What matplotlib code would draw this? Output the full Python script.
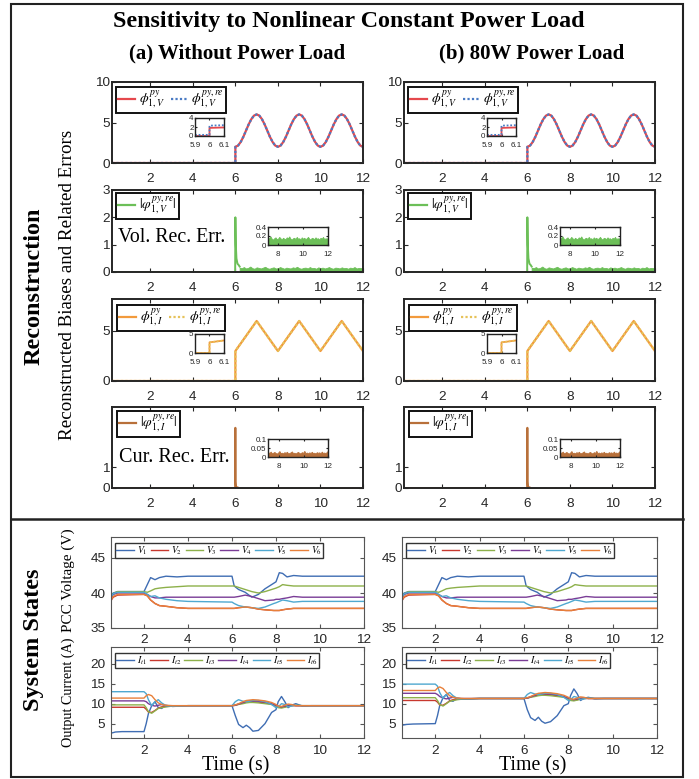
import numpy as np
import matplotlib
matplotlib.use('Agg')
import matplotlib.pyplot as plt
from matplotlib.lines import Line2D
from matplotlib.patches import Rectangle

# ---------------- DATA ----------------
xticks_top = [2, 4, 6, 8, 10, 12]
# phi_V : zero before 6 s, then sinusoid (every 0.125 s from 6 to 12)
phiV_pre_t = [0.2, 6.0]
phiV_pre = [0.0, 0.0]
phiV_vals = [2.00, 2.15, 2.59, 3.23, 4.00, 4.77, 5.41, 5.85, 6.00, 5.85, 5.41, 4.77, 4.00, 3.23, 2.59, 2.15,
             2.00, 2.15, 2.59, 3.23, 4.00, 4.77, 5.41, 5.85, 6.00, 5.85, 5.41, 4.77, 4.00, 3.23, 2.59, 2.15,
             2.00, 2.15, 2.59, 3.23, 4.00, 4.77, 5.41, 5.85, 6.00, 5.85, 5.41, 4.77, 4.00, 3.23, 2.59, 2.15,
             2.00]
phiV_ins_t = [5.9, 6.0, 6.0, 6.1]
phiV_ins_true = [0.0, 0.0, 1.8, 1.9]
phiV_ins_rec = [0.25, 0.25, 2.3, 2.4]

# voltage reconstruction error
errV_t = [0.2, 5.99, 6.0, 6.02, 6.05, 6.1, 6.15, 6.2]
errV = [0.0, 0.0, 2.0, 1.0, 0.5, 0.3, 0.26, 0.2]
errV_env = [0.16, 0.14, 0.18, 0.13, 0.15, 0.20, 0.14, 0.12, 0.17, 0.15, 0.13, 0.16, 0.19, 0.14, 0.12,
            0.15, 0.17, 0.13, 0.14, 0.18, 0.15, 0.12, 0.16, 0.14, 0.13, 0.17, 0.15, 0.19, 0.14, 0.12,
            0.15, 0.16, 0.13, 0.18, 0.14, 0.15, 0.12, 0.17, 0.14, 0.16, 0.13, 0.15, 0.18, 0.14, 0.12,
            0.16, 0.15, 0.13, 0.17, 0.14, 0.15, 0.12, 0.16, 0.14, 0.18, 0.13, 0.15, 0.14, 0.16]

# phi_I : triangular wave
phiI_t = [0.2, 6.0, 6.0, 7.0, 8.0, 9.0, 10.0, 11.0, 12.0]
phiI = [0.0, 0.0, 3.0, 6.0, 3.0, 6.0, 3.0, 6.0, 3.0]
phiI_ins_t = [5.9, 6.0, 6.0, 6.1]
phiI_ins = [0.0, 0.0, 2.8, 3.3]

# current reconstruction error
errI_t = [0.2, 5.99, 6.0, 6.01, 6.03, 6.1]
errI = [0.0, 0.0, 2.9, 0.3, 0.05, 0.03]
errI_env = [0.025, 0.020, 0.030, 0.022, 0.018, 0.027, 0.024, 0.035, 0.021, 0.019, 0.026, 0.023, 0.030,
            0.020, 0.024, 0.028, 0.022, 0.019, 0.025, 0.033, 0.021, 0.024, 0.020, 0.027, 0.023, 0.029,
            0.020, 0.022, 0.026, 0.031, 0.021, 0.024, 0.019, 0.025, 0.028, 0.022, 0.020, 0.027, 0.023,
            0.034, 0.021, 0.025, 0.020, 0.026, 0.022, 0.029, 0.021, 0.024, 0.019, 0.027, 0.023, 0.026,
            0.020, 0.030, 0.022, 0.025, 0.021, 0.028, 0.035]

# PCC voltages (same for both cases)
tV = [0.5, 0.6, 0.8, 2.0, 2.15, 2.3, 2.5, 2.7, 3.0, 3.5, 4.0, 6.0, 6.1, 6.3, 6.6, 6.9, 7.2, 7.5, 7.9,
      8.0, 8.15, 8.3, 8.5, 8.8, 9.2, 10.0, 12.0]
V1 = [39.5, 40.0, 40.2, 40.2, 41.2, 42.2, 41.9, 42.2, 42.4, 42.3, 42.4, 42.4, 41.0, 40.5, 40.1, 39.4, 39.8,
      40.6, 41.4, 41.6, 42.9, 42.8, 42.3, 42.5, 42.4, 42.4, 42.4]
V2 = [38.9, 39.4, 39.7, 39.8, 39.6, 39.0, 38.5, 38.2, 38.1, 37.9, 37.8, 37.8, 37.8, 37.9, 38.0, 37.9, 37.7,
      37.6, 37.5, 37.5, 37.5, 37.6, 37.7, 37.8, 37.8, 37.8, 37.8]
V3 = [39.3, 39.9, 40.2, 40.2, 40.1, 40.3, 40.6, 40.7, 40.8, 40.9, 41.0, 41.0, 41.0, 40.8, 40.5, 40.2, 40.0,
      40.2, 40.6, 40.7, 40.9, 41.2, 41.1, 41.0, 41.0, 41.0, 41.0]
V4 = [39.2, 39.8, 40.0, 40.0, 39.8, 39.5, 39.3, 39.3, 39.4, 39.4, 39.4, 39.4, 39.4, 39.5, 39.7, 39.5, 39.2,
      38.9, 39.0, 39.1, 39.1, 39.2, 39.3, 39.5, 39.4, 39.4, 39.4]
V5 = [39.4, 39.9, 40.1, 40.1, 39.8, 39.5, 39.6, 39.3, 39.1, 38.9, 38.8, 38.7, 38.5, 38.2, 38.0, 37.9, 37.8,
      38.0, 38.5, 38.6, 38.8, 39.0, 38.9, 38.7, 38.8, 38.8, 38.8]
V6 = [39.0, 39.5, 39.8, 39.8, 39.6, 39.0, 38.5, 38.2, 38.1, 37.9, 37.8, 37.8, 37.8, 37.9, 38.0, 37.9, 37.7,
      37.6, 37.5, 37.5, 37.5, 37.6, 37.7, 37.8, 37.8, 37.8, 37.8]

# Output currents
tI = [0.5, 0.7, 1.0, 2.0, 2.1, 2.2, 2.35, 2.5, 2.65, 2.8, 3.0, 3.3, 4.0, 6.0, 6.15, 6.3, 6.5, 6.65, 6.8,
      6.95, 7.2, 7.5, 7.8, 8.0, 8.1, 8.25, 8.4, 8.55, 8.7, 8.9, 9.2, 9.6, 12.0]
# (a) without power load
Ia1 = [2.6, 2.9, 3.0, 3.0, 5.0, 7.5, 9.5, 10.5, 9.0, 8.8, 9.6, 9.3, 9.5, 9.5, 7.0, 4.8, 4.0, 4.6, 4.0,
       3.1, 3.3, 5.0, 7.8, 8.5, 10.5, 11.8, 10.5, 9.0, 9.6, 10.0, 9.4, 9.5, 9.5]
Ia2 = [9.1, 9.1, 9.1, 9.1, 8.6, 7.9, 7.8, 8.3, 8.9, 9.2, 9.3, 9.4, 9.5, 9.5, 9.6, 9.9, 10.2, 10.4, 10.5,
       10.5, 10.4, 10.2, 9.9, 9.5, 9.2, 9.1, 9.2, 9.4, 9.5, 9.5, 9.5, 9.5, 9.5]
Ia3 = [9.7, 9.7, 9.7, 9.7, 9.0, 8.0, 7.6, 8.2, 8.8, 9.0, 9.2, 9.4, 9.5, 9.5, 9.6, 9.8, 10.0, 10.2, 10.3,
       10.3, 10.2, 10.0, 9.8, 9.3, 9.0, 8.9, 9.1, 9.3, 9.5, 9.6, 9.5, 9.5, 9.5]
Ia4 = [10.7, 10.7, 10.7, 10.7, 10.5, 10.0, 9.6, 9.4, 9.6, 9.8, 9.5, 9.5, 9.5, 9.5, 9.6, 9.9, 10.3, 10.6,
       10.7, 10.7, 10.6, 10.4, 10.0, 9.6, 9.4, 9.2, 9.4, 9.6, 9.7, 9.5, 9.5, 9.5, 9.5]
Ia5 = [13.0, 13.0, 13.0, 13.0, 12.5, 11.0, 9.5, 10.5, 11.0, 10.2, 9.5, 9.4, 9.5, 9.5, 10.5, 11.0, 10.6,
       10.5, 10.6, 10.8, 10.8, 10.5, 9.8, 9.0, 9.2, 10.0, 9.8, 9.2, 9.4, 9.6, 9.5, 9.5, 9.5]
Ia6 = [11.4, 11.4, 11.4, 11.4, 12.0, 12.3, 12.0, 11.0, 10.2, 9.8, 9.6, 9.5, 9.5, 9.5, 9.7, 10.0, 10.5,
       10.8, 10.9, 11.0, 10.9, 10.7, 10.3, 9.8, 9.4, 9.3, 9.6, 9.9, 9.8, 9.5, 9.5, 9.5, 9.5]
# (b) 80 W power load
Ib1 = [4.6, 4.8, 4.9, 5.0, 7.0, 9.5, 11.5, 12.3, 10.8, 10.6, 11.4, 11.1, 11.3, 11.3, 8.5, 6.5, 5.8, 6.6,
       5.6, 5.1, 5.5, 7.0, 9.5, 10.0, 12.0, 13.7, 12.5, 10.8, 11.3, 11.6, 11.2, 11.3, 11.3]
Ib2 = [10.8, 10.8, 10.8, 10.8, 10.4, 9.7, 9.6, 10.1, 10.7, 11.0, 11.1, 11.2, 11.3, 11.3, 11.4, 11.7, 12.0,
       12.2, 12.3, 12.3, 12.2, 12.0, 11.7, 11.3, 11.0, 10.9, 11.0, 11.2, 11.3, 11.3, 11.3, 11.3, 11.3]
Ib3 = [11.5, 11.5, 11.5, 11.5, 10.8, 9.8, 9.4, 10.0, 10.6, 10.8, 11.0, 11.2, 11.3, 11.3, 11.4, 11.6, 11.8,
       12.0, 12.1, 12.1, 12.0, 11.8, 11.6, 11.1, 10.8, 10.7, 10.9, 11.1, 11.3, 11.4, 11.3, 11.3, 11.3]
Ib4 = [12.6, 12.6, 12.6, 12.6, 12.3, 11.8, 11.4, 11.2, 11.4, 11.6, 11.3, 11.3, 11.3, 11.3, 11.4, 11.7,
       12.1, 12.4, 12.5, 12.5, 12.4, 12.2, 11.8, 11.4, 11.2, 11.0, 11.2, 11.4, 11.5, 11.3, 11.3, 11.3, 11.3]
Ib5 = [14.9, 14.9, 14.9, 14.9, 14.4, 12.8, 11.3, 12.3, 12.8, 12.0, 11.3, 11.2, 11.3, 11.3, 12.3, 12.8,
       12.4, 12.3, 12.4, 12.6, 12.6, 12.3, 11.6, 10.8, 11.0, 11.8, 11.6, 11.0, 11.2, 11.4, 11.3, 11.3, 11.3]
Ib6 = [13.3, 13.3, 13.3, 13.3, 13.9, 14.2, 13.8, 12.8, 12.0, 11.6, 11.4, 11.3, 11.3, 11.3, 11.5, 11.8,
       12.3, 12.6, 12.7, 12.8, 12.7, 12.5, 12.1, 11.6, 11.2, 11.1, 11.4, 11.7, 11.6, 11.3, 11.3, 11.3, 11.3]

V_labels = [r'$V_1$', r'$V_2$', r'$V_3$', r'$V_4$', r'$V_5$', r'$V_6$']
I_labels = [r'$I_{t1}$', r'$I_{t2}$', r'$I_{t3}$', r'$I_{t4}$', r'$I_{t5}$', r'$I_{t6}$']

# ---------------- STYLE ----------------
W, H = 699, 779
plt.rcParams['mathtext.fontset'] = 'stix'
plt.rcParams['font.family'] = ['Liberation Sans', 'DejaVu Sans']
SERIF = ['Liberation Serif', 'DejaVu Serif']

C_RED = '#E5484D'
C_BLUE_D = '#4A7BC4'
C_GREEN = '#6CBF58'
C_ORANGE = '#F29A3C'
C_YELLOW = '#E6C25A'
C_BROWN = '#B8703A'
SIX = ['#3F6DB3', '#C8382E', '#8DB04A', '#7A3C96', '#4FA8D0', '#E8803A']

fig = plt.figure(figsize=(W / 100, H / 100), dpi=100)


def box(l, t, r, b):
    return [l / W, 1 - b / H, (r - l) / W, (b - t) / H]


def style_axes(ax, spine_col, spine_lw, lab, xpad, ypad, tlen=3):
    for s in ax.spines.values():
        s.set_color(spine_col)
        s.set_linewidth(spine_lw)
    ax.tick_params(direction='in', top=True, right=True, length=tlen, width=0.8,
                   color=spine_col, labelsize=lab, labelcolor='#262626')
    ax.tick_params(axis='x', pad=xpad)
    ax.tick_params(axis='y', pad=ypad)


def legend_at(ax, px_box, px_l, px_t, handles, labels, **kw):
    l, t, r, b = px_box
    anchor = ((px_l - l) / (r - l), 1 - (px_t - t) / (b - t))
    leg = ax.legend(handles, labels, loc='upper left', bbox_to_anchor=anchor, borderaxespad=0,
                    fancybox=False, framealpha=1, **kw)
    return leg


def ftext(x, y, s, **kw):
    fig.text(x / W, 1 - y / H, s, family=SERIF, ha='center', va='center', **kw)


LEG_TOP = dict(fontsize=10, handlelength=1.2, handletextpad=0.3, columnspacing=0.4,
               borderpad=0.15, labelspacing=0.1)
LEG_BOT = dict(ncol=6, fontsize=7, handlelength=1.8, handletextpad=0.3, columnspacing=0.35,
               borderpad=0.15)
INS_FS = 5.8
INS_XPAD = 4.0

rows_top = [(82, 163), (190, 272), (299, 381), (407, 488)]
cols_top = [(112, 363), (404, 655)]
rows_bot = [(537, 628), (647, 738)]
cols_bot = [(111, 364), (402, 657)]

for ci, (cl, cr) in enumerate(cols_top):
    dx = 292 * ci
    # ---- panel 1 : phi_V
    pb = (cl, rows_top[0][0], cr, rows_top[0][1])
    ax = fig.add_axes(box(*pb))
    tt = phiV_pre_t + list(np.linspace(6, 12, len(phiV_vals)))
    ax.plot(tt, phiV_pre + phiV_vals, color=C_RED, lw=1.6)
    ax.plot(tt, phiV_pre + phiV_vals, color=C_BLUE_D, lw=1.6, ls=(0, (1, 1)))
    ax.set_xlim(0.2, 12); ax.set_ylim(0, 10)
    ax.set_xticks(xticks_top); ax.set_yticks([0, 5, 10])
    style_axes(ax, '#262626', 1.4, 9.7, 7.5, 1.5)
    h = [Line2D([], [], color=C_RED, lw=1.6), Line2D([], [], color=C_BLUE_D, lw=1.6, ls=(0, (1, 1)))]
    lg = legend_at(ax, pb, cl + 4, 87, h, [r'$\phi^{py}_{1,V}$', r'$\phi^{py,re}_{1,V}$'], ncol=2,
                   **LEG_TOP)
    lg.get_frame().set_edgecolor('#111111'); lg.get_frame().set_linewidth(1.4)
    ia = fig.add_axes(box(195 + dx, 118, 224 + dx, 136))
    ia.plot(phiV_ins_t, phiV_ins_true, color=C_RED, lw=1.3)
    ia.plot(phiV_ins_t, phiV_ins_rec, color=C_BLUE_D, lw=1.3, ls=(0, (1, 1)))
    ia.set_xlim(5.9, 6.1); ia.set_ylim(0, 4)
    ia.set_xticks([5.9, 6, 6.1]); ia.set_xticklabels(['5.9', '6', '6.1'])
    ia.set_yticks([0, 2, 4])
    style_axes(ia, '#222222', 1.0, INS_FS, INS_XPAD, 1, tlen=1.5)

    # ---- panel 2 : |err_V|
    pb = (cl, rows_top[1][0], cr, rows_top[1][1])
    ax = fig.add_axes(box(*pb))
    ax.plot(errV_t, errV, color=C_GREEN, lw=1.4)
    te = np.linspace(6.2, 12, len(errV_env))
    ax.fill_between(te, 0, errV_env, color=C_GREEN, lw=0.6, edgecolor=C_GREEN)
    ax.set_xlim(0.2, 12); ax.set_ylim(0, 3)
    ax.set_xticks(xticks_top); ax.set_yticks([0, 1, 2, 3])
    style_axes(ax, '#262626', 1.4, 9.7, 7.5, 1.5)
    h = [Line2D([], [], color=C_GREEN, lw=1.6)]
    lg = legend_at(ax, pb, cl + 4, 193, h, [r'$|\varphi^{py,re}_{1,V}|$'], **LEG_TOP)
    lg.get_frame().set_edgecolor('#111111'); lg.get_frame().set_linewidth(1.4)
    if ci == 0:
        ftext(172, 237, 'Vol. Rec. Err.', fontsize=14.3)
    ia = fig.add_axes(box(268 + dx, 227, 328 + dx, 245))
    ia.fill_between(te, 0, errV_env, color=C_GREEN, lw=0.6, edgecolor=C_GREEN)
    ia.set_xlim(7.2, 12); ia.set_ylim(0, 0.4)
    ia.set_xticks([8, 10, 12]); ia.set_yticks([0, 0.2, 0.4])
    ia.set_yticklabels(['0', '0.2', '0.4'])
    style_axes(ia, '#222222', 1.0, INS_FS, INS_XPAD, 1, tlen=1.5)

    # ---- panel 3 : phi_I
    pb = (cl, rows_top[2][0], cr, rows_top[2][1])
    ax = fig.add_axes(box(*pb))
    ax.plot(phiI_t, phiI, color=C_ORANGE, lw=1.6)
    ax.plot(phiI_t, phiI, color=C_YELLOW, lw=1.6, ls=(0, (1, 1)))
    ax.set_xlim(0.2, 12); ax.set_ylim(0, 8.2)
    ax.set_xticks(xticks_top); ax.set_yticks([0, 5])
    style_axes(ax, '#262626', 1.4, 9.7, 7.5, 1.5)
    h = [Line2D([], [], color=C_ORANGE, lw=1.6), Line2D([], [], color=C_YELLOW, lw=1.6, ls=(0, (1, 1)))]
    lg = legend_at(ax, pb, cl + 5, 305, h, [r'$\phi^{py}_{1,I}$', r'$\phi^{py,re}_{1,I}$'], ncol=2,
                   **LEG_TOP)
    lg.get_frame().set_edgecolor('#111111'); lg.get_frame().set_linewidth(1.4)
    ia = fig.add_axes(box(195 + dx, 334, 224 + dx, 353))
    ia.plot(phiI_ins_t, phiI_ins, color=C_ORANGE, lw=1.3)
    ia.plot(phiI_ins_t, phiI_ins, color=C_YELLOW, lw=1.3, ls=(0, (1, 1)))
    ia.set_xlim(5.9, 6.1); ia.set_ylim(0, 5)
    ia.set_xticks([5.9, 6, 6.1]); ia.set_xticklabels(['5.9', '6', '6.1'])
    ia.set_yticks([0, 5])
    style_axes(ia, '#222222', 1.0, INS_FS, INS_XPAD, 1, tlen=1.5)

    # ---- panel 4 : |err_I|
    pb = (cl, rows_top[3][0], cr, rows_top[3][1])
    ax = fig.add_axes(box(*pb))
    ax.plot(errI_t, errI, color=C_BROWN, lw=1.4)
    te2 = np.linspace(6.1, 12, len(errI_env))
    ax.fill_between(te2, 0, errI_env, color=C_BROWN, lw=0.6, edgecolor=C_BROWN)
    ax.set_xlim(0.2, 12); ax.set_ylim(0, 3.9)
    ax.set_xticks(xticks_top); ax.set_yticks([0, 1])
    style_axes(ax, '#262626', 1.4, 9.7, 7.5, 1.5)
    h = [Line2D([], [], color=C_BROWN, lw=1.6)]
    lg = legend_at(ax, pb, cl + 5, 411, h, [r'$|\varphi^{py,re}_{1,I}|$'], **LEG_TOP)
    lg.get_frame().set_edgecolor('#111111'); lg.get_frame().set_linewidth(1.4)
    if ci == 0:
        ftext(174, 458, 'Cur. Rec. Err.', fontsize=14.5)
    ia = fig.add_axes(box(268 + dx, 439, 328 + dx, 457))
    ia.fill_between(te2, 0, errI_env, color=C_BROWN, lw=0.6, edgecolor=C_BROWN)
    ia.set_xlim(7.1, 12); ia.set_ylim(0, 0.1)
    ia.set_xticks([8, 10, 12]); ia.set_yticks([0, 0.05, 0.1])
    ia.set_yticklabels(['0', '0.05', '0.1'])
    style_axes(ia, '#222222', 1.0, INS_FS, INS_XPAD, 1, tlen=1.5)

# ---------------- bottom: system states ----------------
I_sets = [[Ia1, Ia2, Ia3, Ia4, Ia5, Ia6], [Ib1, Ib2, Ib3, Ib4, Ib5, Ib6]]
V_set = [V1, V2, V3, V4, V5, V6]
for ci, (cl, cr) in enumerate(cols_bot):
    pb = (cl, rows_bot[0][0], cr, rows_bot[0][1])
    ax = fig.add_axes(box(*pb))
    for k, v in enumerate(V_set):
        ax.plot(tV, v, color=SIX[k], lw=1.0)
    ax.set_xlim(0.5, 12); ax.set_ylim(35, 48)
    ax.set_xticks(xticks_top); ax.set_yticks([35, 40, 45])
    style_axes(ax, '#555555', 0.8, 9.7, 4.5, 4, tlen=3)
    h = [Line2D([], [], color=c, lw=1.0) for c in SIX]
    lg = legend_at(ax, pb, cl + 4, 543, h, V_labels, **LEG_BOT)
    lg.get_frame().set_edgecolor('#333333'); lg.get_frame().set_linewidth(1.0)

    pb = (cl, rows_bot[1][0], cr, rows_bot[1][1])
    ax = fig.add_axes(box(*pb))
    for k, v in enumerate(I_sets[ci]):
        ax.plot(tI, v, color=SIX[k], lw=1.0)
    ax.set_xlim(0.5, 12); ax.set_ylim(1.4, 24.2)
    ax.set_xticks(xticks_top); ax.set_yticks([5, 10, 15, 20])
    style_axes(ax, '#555555', 0.8, 9.7, 5, 4, tlen=3)
    h = [Line2D([], [], color=c, lw=1.0) for c in SIX]
    lg = legend_at(ax, pb, cl + 4, 653, h, I_labels, **LEG_BOT)
    lg.get_frame().set_edgecolor('#333333'); lg.get_frame().set_linewidth(1.0)

# ---------------- texts ----------------
ftext(349, 22, 'Sensitivity to Nonlinear Constant Power Load', fontsize=17.3, weight='bold')
ftext(237, 53, '(a) Without Power Load', fontsize=15, weight='bold')
ftext(532, 53, '(b) 80W Power Load', fontsize=15, weight='bold')
ftext(34, 286, 'Reconstruction', fontsize=17.5, weight='bold', rotation=90)
ftext(68, 285, 'Reconstructed Biases and Related Errors', fontsize=13.7, rotation=90)
ftext(34, 640, 'System States', fontsize=17.5, weight='bold', rotation=90)
ftext(68, 580, 'PCC Voltage (V)', fontsize=11, rotation=90)
ftext(68, 692, 'Output Current (A)', fontsize=10.2, rotation=90)
ftext(236, 766, 'Time (s)', fontsize=14.3)
ftext(533, 766, 'Time (s)', fontsize=14.3)

# outer frame and divider
fig.add_artist(Rectangle((11 / W, 1 - 777 / H), (683 - 11) / W, (777 - 4) / H,
                         transform=fig.transFigure, fill=False, edgecolor='#222222', lw=1.5))
fig.add_artist(Line2D([11 / W, 683 / W], [1 - 519 / H, 1 - 519 / H], transform=fig.transFigure,
                      color='#222222', lw=1.8))

fig.savefig('out.png', dpi=100)
